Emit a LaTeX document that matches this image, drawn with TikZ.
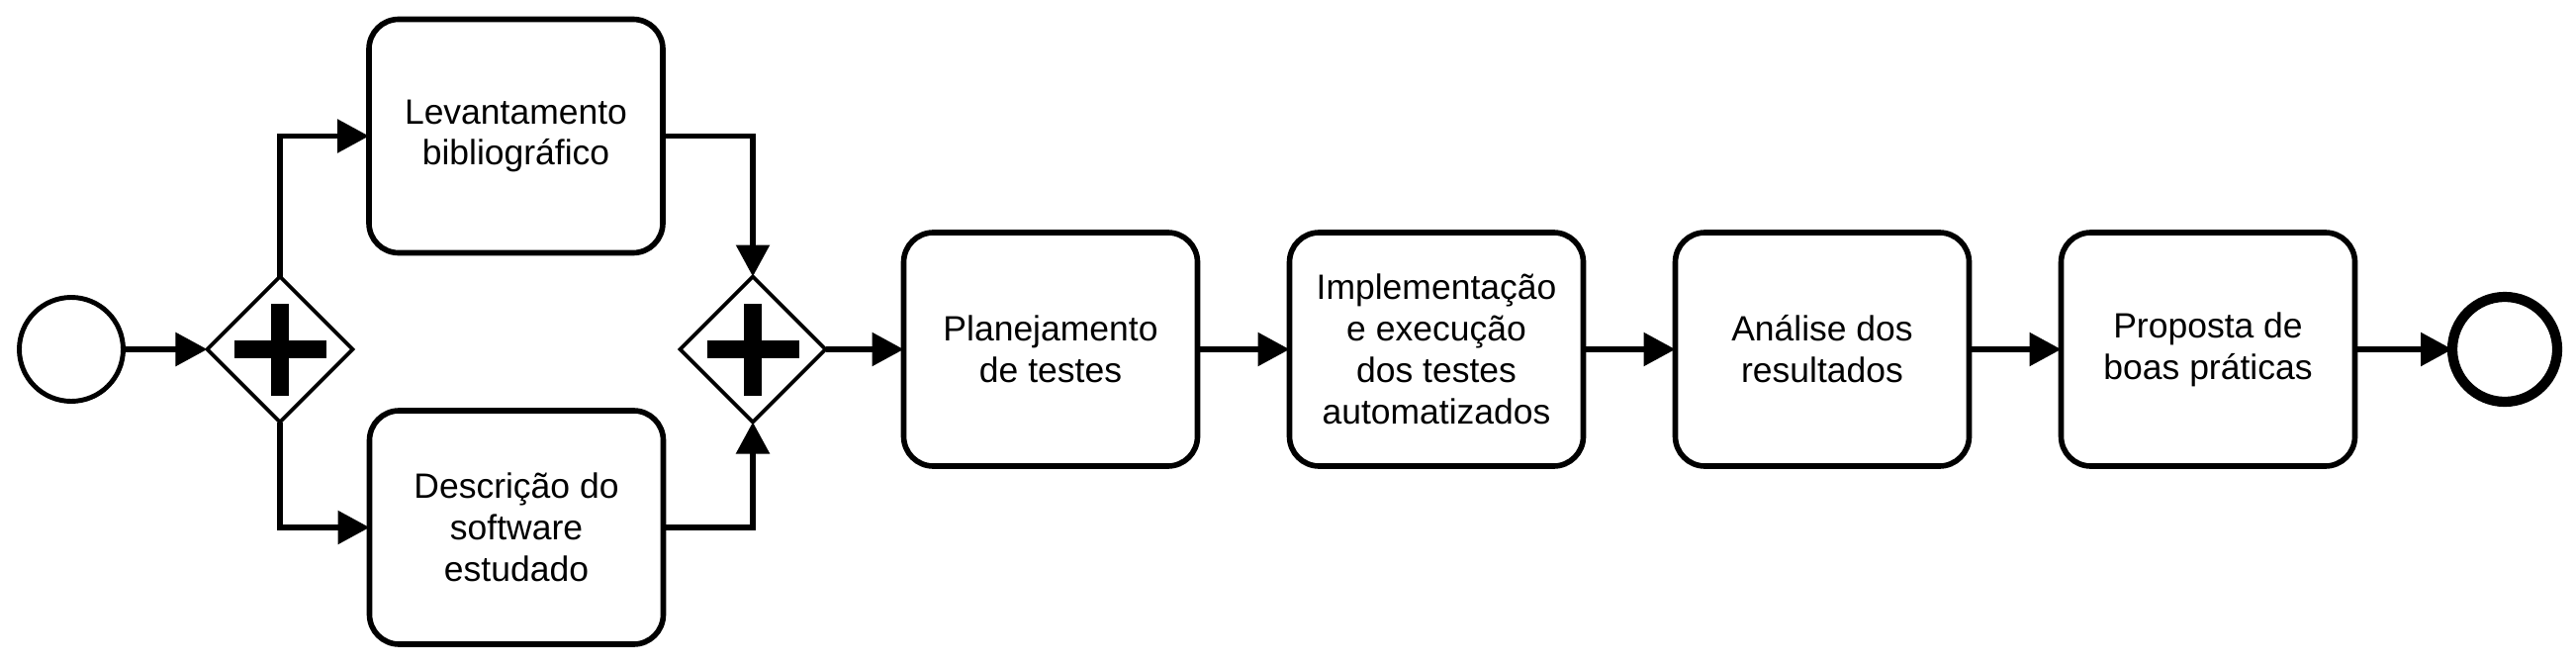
\documentclass[tikz,border=0pt]{standalone}
\usepackage{fontspec}
\setmainfont{Liberation Sans}
\usetikzlibrary{arrows.meta,shapes.geometric}

\tikzset{
  task/.style={draw, line width=1.6pt, rounded corners=0.3cm, minimum width=2.97cm,
    minimum height=2.36cm, align=center, inner sep=0pt, outer sep=0pt,
    font=\fontsize{10.1}{11.9}\selectfont},
  gateway/.style={draw, diamond, aspect=1, line width=1.1pt, minimum size=1.47cm,
    inner sep=0pt, outer sep=0pt},
  startevent/.style={draw, circle, line width=1.4pt, minimum size=1.05cm,
    inner sep=0pt, outer sep=0pt},
  endevent/.style={draw, circle, line width=2.9pt, minimum size=1.06cm,
    inner sep=0pt, outer sep=0pt},
  flow/.style={line width=1.6pt, -{Triangle[length=3.2mm, width=3.3mm]}},
}

\begin{document}
\begin{tikzpicture}
  \useasboundingbox (0, 0) rectangle (26.04, 6.72);

  \node[startevent] (start) at (0.72, 3.19) {};
  \node[gateway] (g1) at (2.83, 3.19) {};
  \node[task] (lev) at (5.215, 5.345) {Levantamento\\bibliográfico};
  \node[task] (desc) at (5.22, 1.39) {Descrição do\\software\\estudado};
  \node[gateway] (g2) at (7.61, 3.19) {};
  \node[task] (plan) at (10.62, 3.19) {Planejamento\\de testes};
  \node[task] (impl) at (14.52, 3.19) {Implementação\\e execução\\dos testes\\automatizados};
  \node[task] (anal) at (18.42, 3.19) {Análise dos\\resultados};
  \node[task] (prop) at (22.32, 3.19) {Proposta de\\boas práticas};
  \node[endevent] (end) at (25.32, 3.19) {};

  \foreach \g in {g1, g2} {
    \fill ([shift={(-0.465, -0.09)}]\g.center) rectangle ([shift={(0.465, 0.09)}]\g.center);
    \fill ([shift={(-0.09, -0.465)}]\g.center) rectangle ([shift={(0.09, 0.465)}]\g.center);
  }

  \draw[flow] (start) -- (g1);
  \draw[flow] (g1.north) |- (lev.west);
  \draw[flow] (g1.south) |- (desc.west);
  \draw[flow] (lev.east) -| (g2.north);
  \draw[flow] (desc.east) -| (g2.south);
  \draw[flow] (g2) -- (plan);
  \draw[flow] (plan) -- (impl);
  \draw[flow] (impl) -- (anal);
  \draw[flow] (anal) -- (prop);
  \draw[flow] (prop) -- (end);
\end{tikzpicture}
\end{document}
